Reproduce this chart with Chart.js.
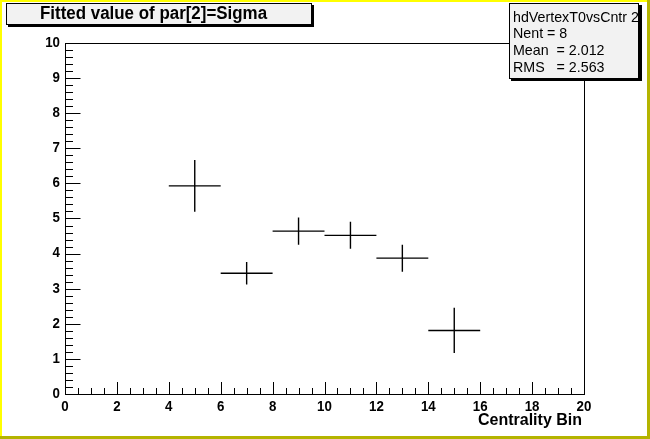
<!DOCTYPE html>
<html>
<head>
<meta charset="utf-8">
<script src="https://cdn.jsdelivr.net/npm/chart.js@4/dist/chart.umd.min.js"></script>
<style>
  html, body { margin: 0; padding: 0; background: #ffffff; }
  canvas { display: block; }
</style>
</head>
<body>
<canvas id="myChart" width="650" height="439"></canvas>
<script>
// centrality bins (centre, half width) and fitted sigma with its error
var binCenters = [5, 7, 9, 11, 13, 15];
var binHalfWidths = [1, 1, 1, 1, 1, 1];
var sigmaValues = [5.93, 3.44, 4.64, 4.52, 3.87, 1.81];
var sigmaErrors = [0.74, 0.32, 0.39, 0.385, 0.385, 0.645];

var xTickLabels = ['0', '2', '4', '6', '8', '10', '12', '14', '16', '18', '20'];
var yTickLabels = ['0', '1', '2', '3', '4', '5', '6', '7', '8', '9', '10'];

var titleText = 'Fitted value of par[2]=Sigma';
var xAxisTitle = 'Centrality Bin';
var statsLines = ['hdVertexT0vsCntr 2', 'Nent = 8', 'Mean  = 2.012', 'RMS   = 2.563'];

var FONT = '"Liberation Sans", Arial, sans-serif';

// text squeezed horizontally, ROOT's bitmap fonts are narrow
function narrowText(c, s, x, y, sx) {
  c.save();
  c.translate(x, y);
  c.scale(sx, 1);
  c.fillText(s, 0, 0);
  c.restore();
}

var rootStyle = {
  id: 'rootStyle',
  beforeDraw: function(chart) {
    var c = chart.ctx, w = chart.width, h = chart.height;
    c.save();
    c.fillStyle = '#ffffff';
    c.fillRect(0, 0, w, h);
    // canvas border, light on top/left, dark on right/bottom
    c.fillStyle = '#ffff00';
    c.fillRect(0, 0, w, 2);
    c.fillRect(0, 0, 2, h);
    c.fillStyle = '#b4b400';
    c.fillRect(w - 3, 0, 3, h);
    c.fillRect(0, h - 3, w, 3);
    c.restore();
  },
  afterDatasetsDraw: function(chart) {
    var c = chart.ctx;
    var xs = chart.scales.x, ys = chart.scales.y;
    var a = chart.chartArea;
    c.save();
    c.strokeStyle = '#000';
    c.lineWidth = 1;

    // frame
    c.strokeRect(Math.round(a.left) + 0.5, Math.round(a.top) + 0.5,
      Math.round(a.right - a.left), Math.round(a.bottom - a.top));

    // y ticks (inside, left axis)
    var v, px;
    c.beginPath();
    for (v = 0; v <= 10.0001; v += 0.2) {
      px = Math.round(ys.getPixelForValue(v)) + 0.5;
      var major = Math.abs(v - Math.round(v)) < 0.01;
      c.moveTo(a.left, px);
      c.lineTo(a.left + (major ? 15.5 : 8), px);
    }
    // x ticks (inside, bottom axis)
    for (v = 0; v <= 20.0001; v += 0.5) {
      px = Math.round(xs.getPixelForValue(v)) + 0.5;
      var maj = Math.abs(v / 2 - Math.round(v / 2)) < 0.01;
      c.moveTo(px, a.bottom);
      c.lineTo(px, a.bottom - (maj ? 12 : 6));
    }
    c.stroke();

    // tick labels
    c.fillStyle = '#000';
    c.font = 'bold 14px ' + FONT;
    c.textAlign = 'right';
    c.textBaseline = 'middle';
    yTickLabels.forEach(function(t) {
      narrowText(c, t, a.left - 5, ys.getPixelForValue(parseFloat(t)), 0.95);
    });
    c.textAlign = 'center';
    c.textBaseline = 'top';
    xTickLabels.forEach(function(t) {
      narrowText(c, t, xs.getPixelForValue(parseFloat(t)), a.bottom + 6, 0.95);
    });

    // axis title
    c.font = 'bold 16px ' + FONT;
    c.textAlign = 'right';
    c.textBaseline = 'middle';
    narrowText(c, xAxisTitle, a.right - 2, 421, 1.0);

    // error crosses
    c.lineWidth = 1.4;
    c.beginPath();
    binCenters.forEach(function(x, i) {
      var cx = xs.getPixelForValue(x);
      var cy = ys.getPixelForValue(sigmaValues[i]);
      c.moveTo(xs.getPixelForValue(x - binHalfWidths[i]), cy);
      c.lineTo(xs.getPixelForValue(x + binHalfWidths[i]), cy);
      c.moveTo(cx, ys.getPixelForValue(sigmaValues[i] - sigmaErrors[i]));
      c.lineTo(cx, ys.getPixelForValue(sigmaValues[i] + sigmaErrors[i]));
    });
    c.stroke();

    // title box
    c.lineWidth = 1;
    c.fillStyle = '#000';
    c.fillRect(8, 5, 306, 22);
    c.fillStyle = '#f2f2f2';
    c.fillRect(6, 3, 305, 21);
    c.strokeRect(6.5, 3.5, 305, 21);
    c.fillStyle = '#000';
    c.font = 'bold 18px ' + FONT;
    c.textAlign = 'left';
    c.textBaseline = 'middle';
    narrowText(c, titleText, 40, 14.5, 0.94);

    // stats box
    c.fillStyle = '#000';
    c.fillRect(511, 5, 131, 76);
    c.fillStyle = '#f2f2f2';
    c.fillRect(509, 3, 130, 76);
    c.strokeRect(509.5, 3.5, 129, 75);
    c.save();
    c.beginPath();
    c.rect(510, 4, 128, 74);
    c.clip();
    c.fillStyle = '#000';
    c.font = '15px ' + FONT;
    c.textBaseline = 'middle';
    statsLines.forEach(function(s, i) {
      narrowText(c, s, 513, 17.5 + i * 16.8, 0.95);
    });
    c.restore();

    c.restore();
  }
};

var ctx = document.getElementById('myChart').getContext('2d');
new Chart(ctx, {
  type: 'scatter',
  data: {
    datasets: [{
      label: 'sigma',
      data: binCenters.map(function(x, i) { return { x: x, y: sigmaValues[i] }; }),
      pointRadius: 0,
      showLine: false
    }]
  },
  options: {
    responsive: false,
    animation: false,
    layout: { padding: { left: 65, top: 43, right: 66, bottom: 45 } },
    scales: {
      x: { type: 'linear', min: 0, max: 20, display: false },
      y: { type: 'linear', min: 0, max: 10, display: false }
    },
    plugins: {
      legend: { display: false },
      tooltip: { enabled: false }
    }
  },
  plugins: [rootStyle]
});
</script>
</body>
</html>
